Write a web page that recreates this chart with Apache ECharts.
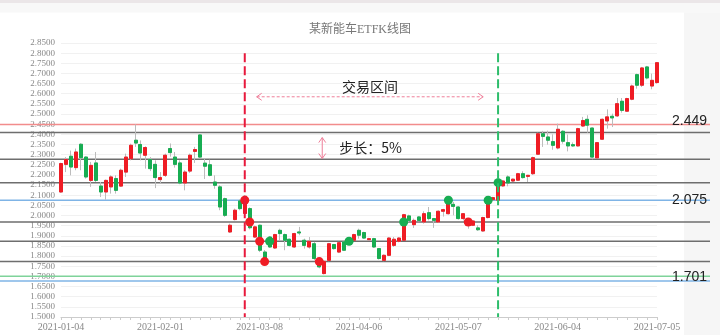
<!DOCTYPE html>
<html><head><meta charset="utf-8">
<script src="https://cdn.jsdelivr.net/npm/echarts@6/dist/echarts.min.js"></script>
<style>html,body{margin:0;padding:0;background:#fff}#c{width:720px;height:335px}</style>
</head><body><div id="c"></div>
<script>
const dates = [
'2021-01-04','2021-01-05','2021-01-06','2021-01-07','2021-01-08','2021-01-11','2021-01-12','2021-01-13','2021-01-14','2021-01-15',
'2021-01-18','2021-01-19','2021-01-20','2021-01-21','2021-01-22','2021-01-25','2021-01-26','2021-01-27','2021-01-28','2021-01-29',
'2021-02-01','2021-02-02','2021-02-03','2021-02-04','2021-02-05','2021-02-08','2021-02-09','2021-02-10','2021-02-18','2021-02-19',
'2021-02-22','2021-02-23','2021-02-24','2021-02-25','2021-02-26',
'2021-03-01','2021-03-02','2021-03-03','2021-03-04','2021-03-05','2021-03-08','2021-03-09','2021-03-10','2021-03-11','2021-03-12',
'2021-03-15','2021-03-16','2021-03-17','2021-03-18','2021-03-19','2021-03-22','2021-03-23','2021-03-24','2021-03-25','2021-03-26',
'2021-03-29','2021-03-30','2021-03-31',
'2021-04-01','2021-04-02','2021-04-06','2021-04-07','2021-04-08','2021-04-09','2021-04-12','2021-04-13','2021-04-14','2021-04-15',
'2021-04-16','2021-04-19','2021-04-20','2021-04-21','2021-04-22','2021-04-23','2021-04-26','2021-04-27','2021-04-28','2021-04-29','2021-04-30',
'2021-05-06','2021-05-07','2021-05-10','2021-05-11','2021-05-12','2021-05-13','2021-05-14','2021-05-17','2021-05-18','2021-05-19',
'2021-05-20','2021-05-21','2021-05-24','2021-05-25','2021-05-26','2021-05-27','2021-05-28','2021-05-31',
'2021-06-01','2021-06-02','2021-06-03','2021-06-04','2021-06-07','2021-06-08','2021-06-09','2021-06-10','2021-06-11','2021-06-15',
'2021-06-16','2021-06-17','2021-06-18','2021-06-21','2021-06-22','2021-06-23','2021-06-24','2021-06-25','2021-06-28','2021-06-29','2021-06-30',
'2021-07-01','2021-07-02','2021-07-05'];

const opens = [2.116,2.252,2.292,2.236,2.351,2.288,2.173,2.259,2.145,2.116,2.141,2.182,2.145,2.214,2.280,2.371,2.350,2.297,2.276,2.252,
2.177,2.198,2.330,2.288,2.259,2.160,2.219,2.316,2.397,2.258,2.250,2.165,2.141,2.083,1.919,1.980,2.072,2.010,2.034,1.894,
1.952,1.820,1.894,1.840,1.927,1.906,1.883,1.845,1.919,1.878,1.845,1.861,1.779,1.714,1.779,1.857,1.820,1.870,1.886,1.878,
1.927,1.916,1.881,1.886,1.837,1.779,1.804,1.853,1.873,1.878,1.998,1.955,1.993,1.968,2.014,1.985,1.968,2.021,2.009,2.055,
2.042,1.985,1.957,1.952,1.939,1.924,1.990,2.078,2.075,2.146,2.190,2.170,2.174,2.206,2.193,2.206,2.302,2.403,2.387,2.364,
2.333,2.415,2.359,2.349,2.343,2.441,2.474,2.431,2.284,2.376,2.466,2.489,2.491,2.563,2.514,2.573,2.694,2.642,2.732,2.638,2.655];
const closes = [2.256,2.276,2.239,2.313,2.285,2.190,2.247,2.173,2.116,2.173,2.190,2.124,2.223,2.288,2.346,2.357,2.308,2.335,2.231,2.187,
2.187,2.297,2.310,2.252,2.160,2.214,2.297,2.325,2.288,2.243,2.198,2.149,2.042,2.001,1.952,2.026,2.034,2.095,1.940,1.944,
1.829,1.785,1.845,1.906,1.911,1.878,1.853,1.911,1.914,1.853,1.873,1.788,1.747,1.774,1.861,1.837,1.866,1.829,1.861,1.906,
1.903,1.889,1.886,1.845,1.788,1.804,1.889,1.883,1.889,2.004,1.976,1.976,1.976,2.009,1.985,1.976,2.021,2.029,2.091,2.045,
1.985,2.009,1.985,1.973,1.930,1.990,2.091,2.088,2.165,2.170,2.160,2.179,2.206,2.187,2.198,2.285,2.403,2.390,2.371,2.346,
2.425,2.366,2.343,2.343,2.428,2.468,2.445,2.288,2.359,2.474,2.486,2.481,2.551,2.518,2.576,2.638,2.642,2.727,2.678,2.666,2.753];
const lows = [2.112,2.214,2.198,2.223,2.223,2.182,2.141,2.165,2.091,2.078,2.108,2.108,2.141,2.190,2.272,2.338,2.272,2.231,2.219,2.135,
2.160,2.190,2.290,2.236,2.154,2.124,2.210,2.259,2.280,2.180,2.193,2.132,2.026,1.993,1.914,1.976,2.026,1.995,1.932,1.890,
1.820,1.770,1.840,1.835,1.878,1.829,1.848,1.840,1.903,1.837,1.837,1.779,1.740,1.710,1.775,1.832,1.815,1.825,1.855,1.875,
1.886,1.885,1.878,1.840,1.783,1.775,1.800,1.845,1.868,1.875,1.968,1.939,1.972,1.960,1.976,1.939,1.963,1.995,2.005,2.001,
1.980,1.976,1.935,1.948,1.924,1.920,1.986,2.074,2.070,2.142,2.144,2.165,2.170,2.182,2.165,2.200,2.298,2.338,2.349,2.324,
2.326,2.354,2.316,2.338,2.340,2.436,2.408,2.277,2.280,2.372,2.428,2.436,2.486,2.507,2.510,2.568,2.625,2.633,2.671,2.622,2.650];
const highs = [2.260,2.288,2.320,2.330,2.356,2.292,2.264,2.313,2.165,2.177,2.198,2.198,2.231,2.305,2.354,2.449,2.370,2.341,2.288,2.272,
2.214,2.305,2.355,2.313,2.272,2.223,2.305,2.338,2.400,2.278,2.275,2.198,2.149,2.088,1.960,2.034,2.080,2.100,2.040,1.950,
1.955,1.830,1.898,1.910,1.935,1.911,1.886,1.915,1.944,1.886,1.894,1.870,1.785,1.778,1.865,1.860,1.870,1.873,1.890,1.910,
1.935,1.920,1.890,1.890,1.840,1.808,1.893,1.894,1.893,2.008,2.004,1.985,1.997,2.021,2.042,1.988,2.025,2.033,2.095,2.067,
2.046,2.012,1.988,1.976,1.952,1.994,2.095,2.092,2.170,2.174,2.198,2.182,2.210,2.218,2.200,2.290,2.408,2.417,2.418,2.400,
2.453,2.420,2.399,2.360,2.432,2.486,2.494,2.433,2.362,2.478,2.523,2.502,2.579,2.579,2.580,2.645,2.699,2.732,2.737,2.699,2.756];

// grid trading levels
const gridLevels = [2.409, 2.277, 2.162, 1.968, 1.873, 1.773];
const upperLevel = 2.449, baseLevel = 2.075, lowerLevel = 1.701, stopLevel = 1.677;
const levelLabels = ['2.449', '2.075', '1.701'];
// signal points [index, level]
const buyPoints = [[37,2.075],[38,1.968],[40,1.873],[41,1.773],[52,1.773],[82,1.968]];
const sellPoints = [[42,1.873],[58,1.873],[69,1.968],[78,2.075],[86,2.075],[88,2.162]];
const rangeStart = 37, rangeEnd = 88;
const yMin = 1.5, yMax = 2.85, yStep = 0.05;

const RED = '#ef1c24', GREEN = '#17ad52', WICK = '#bcbcbc';
const chart = echarts.init(document.getElementById('c'));
const ohlc = dates.map((d, i) => [opens[i], closes[i], lows[i], highs[i]]);
const bodies = dates.map((d, i) => [opens[i], closes[i], Math.min(opens[i], closes[i]), Math.max(opens[i], closes[i])]);

chart.setOption({
  animation: false,
  backgroundColor: '#fff',
  title: { text: '某新能车ETFK线图', left: 'center', top: 19,
    textStyle: { fontSize: 12, fontWeight: 'normal', color: '#777', fontFamily: 'Liberation Serif, Noto Sans CJK SC' } },
  grid: { left: 61, right: 63, top: 43, bottom: 18 },
  xAxis: { type: 'category', data: dates, boundaryGap: false,
    axisLine: { lineStyle: { color: '#ccc' } },
    axisTick: { interval: 1, length: 3, lineStyle: { color: '#ccc' } },
    axisLabel: { interval: 19, color: '#888', fontSize: 10, margin: 5, fontFamily: 'Liberation Serif' },
    splitLine: { show: false } },
  yAxis: { type: 'value', min: yMin, max: yMax, interval: yStep, scale: true,
    axisLine: { show: false }, axisTick: { show: false },
    axisLabel: { formatter: v => v.toFixed(4), color: '#888', fontSize: 9, margin: 6, fontFamily: 'Liberation Serif' },
    splitLine: { lineStyle: { color: '#f1f1f1' } } },
  series: [
    { name: 'wick', type: 'candlestick', data: ohlc, barWidth: 3.5, silent: true, z: 2,
      itemStyle: { color: WICK, color0: WICK, borderColor: WICK, borderColor0: WICK, borderWidth: 1 } },
    { name: 'body', type: 'candlestick', data: bodies, barWidth: 3.5, silent: true, z: 3,
      itemStyle: { color: RED, color0: GREEN, borderColor: RED, borderColor0: GREEN, borderWidth: 1 } },
    { name: 'buy', type: 'scatter', data: buyPoints, symbolSize: 9, z: 5, itemStyle: { color: RED, opacity: 1 } },
    { name: 'sell', type: 'scatter', data: sellPoints, symbolSize: 9, z: 5, itemStyle: { color: GREEN, opacity: 1 } }
  ]
});

function X(i) {
  const a = chart.convertToPixel({ gridIndex: 0 }, [0, yMin])[0];
  const b = chart.convertToPixel({ gridIndex: 0 }, [1, yMin])[0];
  return a + (b - a) * i;
}
function Y(v) { return chart.convertToPixel({ gridIndex: 0 }, [0, v])[1]; }

const g = [];
// page frame decoration
g.push({ type: 'rect', shape: { x: 0, y: 0, width: 720, height: 3 }, style: { fill: '#ebe6e8' }, z: 0 });
g.push({ type: 'rect', shape: { x: 0, y: 3, width: 720, height: 9.5 }, style: { fill: '#f8f8f8' }, z: 0 });
g.push({ type: 'rect', shape: { x: 684, y: 12.5, width: 36, height: 323 }, style: { fill: '#f6f6f6' }, z: 0 });

const hline = (v, color) => ({ type: 'line', z: 1, shape: { x1: 0, y1: Y(v), x2: 710, y2: Y(v) }, style: { stroke: color, lineWidth: 1.5 } });
gridLevels.forEach(v => g.push(hline(v, '#6e6e6e')));
g.push(hline(upperLevel, '#f28c8c'));
g.push(hline(baseLevel, '#7fb4e6'));
g.push(hline(lowerLevel, '#7fd39a'));
g.push(hline(stopLevel, '#7fb4e6'));

// right-side level labels
[[upperLevel, levelLabels[0], -3], [baseLevel, levelLabels[1], 0], [lowerLevel, levelLabels[2], 1]].forEach(([v, t, dy]) => {
  g.push({ type: 'text', z: 10, style: { x: 707, y: Y(v) + dy, text: t, align: 'right', verticalAlign: 'middle',
    fill: '#222', font: '14px Liberation Sans, Arial, sans-serif' } });
});

// trading range vertical dashed lines
const topV = 2.80;
[[rangeStart, '#e8193c'], [rangeEnd, '#2dbd6b']].forEach(([i, c]) => {
  g.push({ type: 'line', z: 6, shape: { x1: X(i), y1: Y(topV), x2: X(i), y2: Y(yMin) },
    style: { stroke: c, lineWidth: 2, lineDash: [9, 4] } });
});

// range arrow
const PINK = '#ef7f9a';
const ay = Y(2.585), ax1 = X(39.4), ax2 = X(85.0);
g.push({ type: 'line', z: 6, shape: { x1: ax1, y1: ay, x2: ax2, y2: ay }, style: { stroke: PINK, lineWidth: 1, lineDash: [3, 2] } });
g.push({ type: 'polyline', z: 6, shape: { points: [[ax1 + 5, ay - 3.5], [ax1, ay], [ax1 + 5, ay + 3.5]] }, style: { stroke: PINK, lineWidth: 1, fill: null } });
g.push({ type: 'polyline', z: 6, shape: { points: [[ax2 - 5, ay - 3.5], [ax2, ay], [ax2 - 5, ay + 3.5]] }, style: { stroke: PINK, lineWidth: 1, fill: null } });
g.push({ type: 'text', z: 10, style: { x: X(62.2), y: Y(2.635), text: '交易区间', align: 'center', verticalAlign: 'middle',
  fill: '#222', font: '14px Noto Sans CJK SC, sans-serif' } });

// step arrow
const sx = X(52.6), sy1 = Y(2.384), sy2 = Y(2.281);
g.push({ type: 'line', z: 6, shape: { x1: sx, y1: sy1, x2: sx, y2: sy2 }, style: { stroke: PINK, lineWidth: 1 } });
g.push({ type: 'polyline', z: 6, shape: { points: [[sx - 3.5, sy1 + 5], [sx, sy1], [sx + 3.5, sy1 + 5]] }, style: { stroke: PINK, lineWidth: 1, fill: null } });
g.push({ type: 'polyline', z: 6, shape: { points: [[sx - 3.5, sy2 - 5], [sx, sy2], [sx + 3.5, sy2 - 5]] }, style: { stroke: PINK, lineWidth: 1, fill: null } });
g.push({ type: 'text', z: 10, style: { x: X(56), y: Y(2.333), text: '步长：5%', align: 'left', verticalAlign: 'middle',
  fill: '#222', font: '14px Noto Sans CJK SC, sans-serif' } });

chart.setOption({ graphic: { elements: g } });
</script>
</body></html>
